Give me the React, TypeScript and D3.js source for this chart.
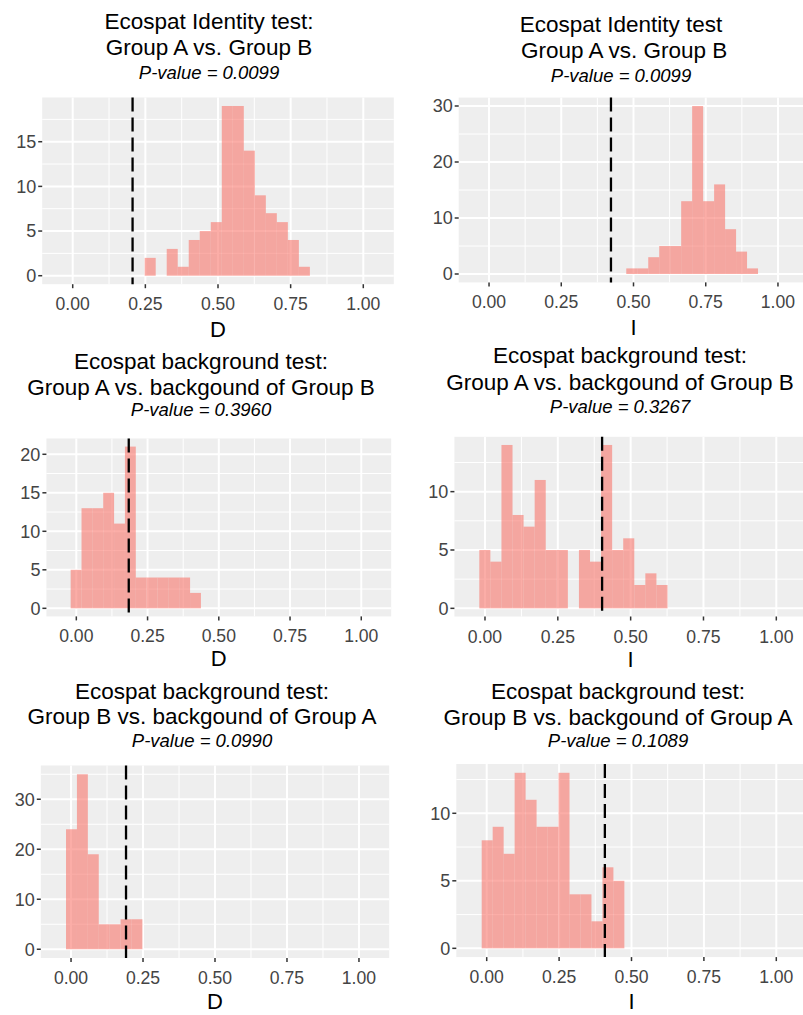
import React from 'react';
import * as d3 from 'd3';

// titles and values
const titleLine1 = [
  'Ecospat Identity test:',
  'Ecospat Identity test',
  'Ecospat background test:',
  'Ecospat background test:',
  'Ecospat background test:',
  'Ecospat background test:'
];
const titleLine2 = [
  'Group A vs. Group B',
  ' Group A vs. Group B',
  'Group A vs. backgound of Group B',
  'Group A vs. backgound of Group B',
  'Group B vs. backgound of Group A',
  'Group B vs. backgound of Group A'
];
const pValues = ['0.0099', '0.0099', '0.3960', '0.3267', '0.0990', '0.1089'];
const axisNames = ['D', 'I', 'D', 'I', 'D', 'I'];
const observed = [0.206, 0.422, 0.184, 0.402, 0.191, 0.408];
const binStarts = [0.2477, 0.475, -0.0199, -0.0195, -0.0174, -0.0173];
const binWidths = [0.0379, 0.038, 0.0381, 0.038, 0.0379, 0.0379];

const counts1 = [2, 0, 3, 1, 4, 5, 6, 19, 19, 14, 9, 7, 6, 4, 1];
const counts2 = [1, 1, 3, 5, 5, 13, 30, 13, 16, 8, 4, 1];
const counts3 = [5, 13, 13, 15, 11, 21, 4, 4, 4, 4, 4, 2];
const counts4 = [5, 4, 14, 8, 7, 11, 5, 5, 0, 5, 4, 14, 5, 6, 2, 3, 2];
const counts5 = [24, 35, 19, 5, 5, 6, 6];
const counts6 = [8, 9, 7, 13, 11, 9, 9, 13, 4, 4, 2, 6, 5];
const allCounts = [counts1, counts2, counts3, counts4, counts5, counts6];

const xTicks = [0, 0.25, 0.5, 0.75, 1];
const yTicks = [[0, 5, 10, 15], [0, 10, 20, 30], [0, 5, 10, 15, 20], [0, 5, 10], [0, 10, 20, 30], [0, 5, 10]];

// layout of each panel in the page (px)
const panelRects = [
  { left: 42.2, right: 393.8, top: 97.5, bottom: 284.2 },
  { left: 458.7, right: 808.3, top: 97.6, bottom: 282.4 },
  { left: 46.4, right: 391.2, top: 438.5, bottom: 616.4 },
  { left: 454.4, right: 806.9, top: 436.8, bottom: 616.5 },
  { left: 40.8, right: 389.2, top: 765.5, bottom: 958 },
  { left: 456.3, right: 806.7, top: 764, bottom: 957.1 }
];
const titleCenters = [209, 621, 201, 620, 202, 618];
const titleBaselines = [[29, 55, 79], [32, 58, 82], [369, 395, 416], [363, 390, 413], [699, 724, 747], [699, 725, 747]];
const axisTitleBaselines = [337, 335, 666, 667, 1009, 1009];

const FONT = '"Liberation Sans", Arial, Helvetica, sans-serif';
const BG = '#EEEEEE';

function Panel({ i }: { i: number }) {
  const r = panelRects[i];
  const counts = allCounts[i];
  const ymax = d3.max(counts) as number;
  const x = d3.scaleLinear().domain([-0.105, 1.105]).range([r.left, r.right]);
  const y = d3.scaleLinear().domain([-0.05 * ymax, 1.05 * ymax]).range([r.bottom, r.top]);

  const yt = yTicks[i];
  const step = yt[1] - yt[0];
  const yMinor = d3.range(yt[0] + step / 2, 1.05 * ymax, step);
  const xMinor = [0.125, 0.375, 0.625, 0.875];

  const bins = counts.map((c, k) => ({
    x0: binStarts[i] + k * binWidths[i],
    x1: binStarts[i] + (k + 1) * binWidths[i],
    c
  }));
  const fmt = d3.format('.2f');

  return (
    <g>
      <rect x={r.left} y={r.top} width={r.right - r.left} height={r.bottom - r.top} fill={BG} />
      {xMinor.map(v => (
        <line key={'xm' + v} x1={x(v)} x2={x(v)} y1={r.top} y2={r.bottom} stroke="#fff" strokeWidth={1} />
      ))}
      {yMinor.map(v => (
        <line key={'ym' + v} x1={r.left} x2={r.right} y1={y(v)} y2={y(v)} stroke="#fff" strokeWidth={1} />
      ))}
      {xTicks.map(v => (
        <line key={'xg' + v} x1={x(v)} x2={x(v)} y1={r.top} y2={r.bottom} stroke="#fff" strokeWidth={2} />
      ))}
      {yt.map(v => (
        <line key={'yg' + v} x1={r.left} x2={r.right} y1={y(v)} y2={y(v)} stroke="#fff" strokeWidth={2} />
      ))}
      {bins.filter(b => b.c > 0).map((b, k) => (
        <rect key={k} x={x(b.x0)} y={y(b.c)} width={x(b.x1) - x(b.x0)} height={y(0) - y(b.c)}
          fill="#F8766D" fillOpacity={0.6} />
      ))}
      <line x1={x(observed[i])} x2={x(observed[i])} y1={r.top} y2={r.bottom}
        stroke="#000" strokeWidth={2.3} strokeDasharray="14 6" />
      {/* axes */}
      {yt.map(v => (
        <g key={'yt' + v}>
          <line x1={r.left - 4} x2={r.left} y1={y(v)} y2={y(v)} stroke="#333" strokeWidth={1.5} />
          <text x={r.left - 6} y={y(v)} dy="0.35em" textAnchor="end" fontSize={18} fill="#444">{v}</text>
        </g>
      ))}
      {xTicks.map(v => (
        <g key={'xt' + v}>
          <line x1={x(v)} x2={x(v)} y1={r.bottom} y2={r.bottom + 4} stroke="#333" strokeWidth={1.5} />
          <text x={x(v)} y={r.bottom + 26} textAnchor="middle" fontSize={17.6} fill="#444">{fmt(v)}</text>
        </g>
      ))}
      <text x={(r.left + r.right) / 2} y={axisTitleBaselines[i]} textAnchor="middle" fontSize={22} fill="#000">
        {axisNames[i]}
      </text>
      {/* titles */}
      <text x={titleCenters[i]} y={titleBaselines[i][0]} textAnchor="middle" fontSize={22.5} fill="#000"
        style={{ whiteSpace: 'pre' }}>{titleLine1[i]}</text>
      <text x={titleCenters[i]} y={titleBaselines[i][1]} textAnchor="middle" fontSize={22.5} fill="#000"
        style={{ whiteSpace: 'pre' }}>{titleLine2[i]}</text>
      <text x={titleCenters[i]} y={titleBaselines[i][2]} textAnchor="middle" fontSize={18.5} fontStyle="italic"
        fill="#000">{'P-value = ' + pValues[i]}</text>
    </g>
  );
}

export default function App() {
  return (
    <div style={{ position: 'absolute', left: 0, top: 0 }}>
      <svg width={803} height={1015} style={{ display: 'block', fontFamily: FONT, background: '#fff' }}>
        {allCounts.map((_, i) => <Panel key={i} i={i} />)}
      </svg>
    </div>
  );
}
